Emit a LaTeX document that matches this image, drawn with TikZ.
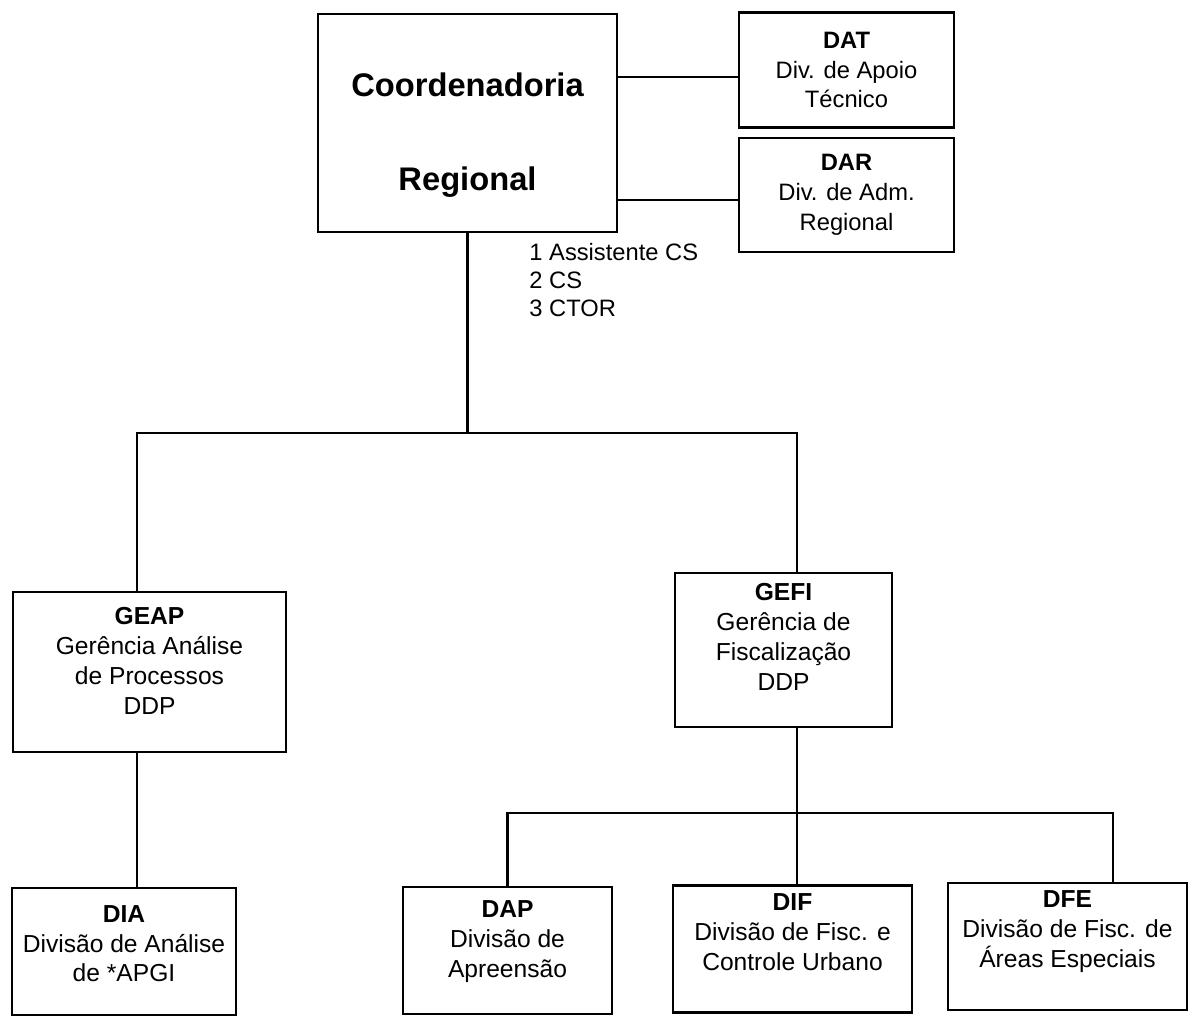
\documentclass[tikz,border=0pt]{standalone}
\usepackage{fontspec}
\setmainfont{Liberation Sans}
\newcommand{\lift}[1]{\rule[-#1]{0pt}{0pt}}

\begin{document}
\begin{tikzpicture}[line width=1.2pt,
  box/.style={draw, align=center, inner sep=2pt, font=\fontsize{14}{17}\selectfont},
  sidebox/.style={box, minimum width=4.3cm, font=\fontsize{13.5}{17}\selectfont},
  lowbox/.style={box, minimum height=2.54cm}]
				\useasboundingbox (0,0) rectangle (23.84,-20.46);
				\node[box, minimum width=5.98cm, minimum height=4.36cm, font=\bfseries\fontsize{18.6}{22}\selectfont] (coord) at (9.35,-2.46) {\rule{0pt}{27pt}Coordenadoria\\[1.1cm]Regional};
				\node[sidebox, minimum height=2.3cm] (dat) at (16.93,-1.4) {\textbf{DAT}\\Div. de Apoio\\Técnico};
				\node[sidebox, minimum height=2.28cm] (dar) at (16.93,-3.9) {\textbf{DAR}\\Div. de Adm.\\Regional};
				\node[anchor=north west, align=left, font=\fontsize{13.5}{16}\selectfont] (cargos) at (10.45,-4.72) {1 Assistente CS\\2 CS\\3 CTOR};
				\node[box, minimum width=5.46cm, minimum height=3.2cm] (geap) at (2.99,-13.44) {\textbf{GEAP}\\Gerência Análise\\de Processos\\DDP\lift{12.5pt}};
				\node[box, minimum width=4.34cm, minimum height=3.08cm] (gefi) at (15.67,-13.0) {\textbf{GEFI}\\Gerência de\\Fiscalização\\DDP\lift{14.7pt}};
				\node[lowbox, minimum width=4.48cm] (dia) at (2.48,-19.03) {\textbf{DIA}\\Divisão de Análise\\de *APGI\lift{9pt}};
				\node[lowbox, minimum width=4.18cm] (dap) at (10.15,-19.01) {\textbf{DAP}\\Divisão de\\Apreensão\lift{13pt}};
				\node[lowbox, minimum width=4.78cm] (dif) at (15.85,-18.98) {\textbf{DIF}\\Divisão de Fisc. e\\Controle Urbano\lift{19pt}};
				\node[lowbox, minimum width=4.78cm] (dfe) at (21.35,-18.93) {\textbf{DFE}\\Divisão de Fisc. de\\Áreas Especiais\lift{20pt}};
				\coordinate (bus) at (9.32,-8.66);
				\coordinate (subbus) at (15.94,-16.26);
				% ligacoes laterais
				\draw ([yshift=-0.14cm]dat.west -| coord.east) to ([yshift=-0.14cm]dat.west);
				\draw ([yshift=-0.1cm]dar.west -| coord.east) to ([yshift=-0.1cm]dar.west);
				% ramo principal
				\draw (coord.south) to (coord.south |- bus);
				\draw ([xshift=-0.25cm]geap.north) |- (bus) -| ([xshift=0.27cm]gefi.north);
				\draw ([xshift=-0.25cm]geap.south) to ([xshift=-0.25cm]geap.south |- dia.north);
				\draw ([xshift=0.27cm]gefi.south) to (subbus);
				\draw (dap.north) |- (subbus) -| ([xshift=0.91cm]dfe.north);
				\draw (subbus) to (subbus |- dif.north);
\end{tikzpicture}
\end{document}
